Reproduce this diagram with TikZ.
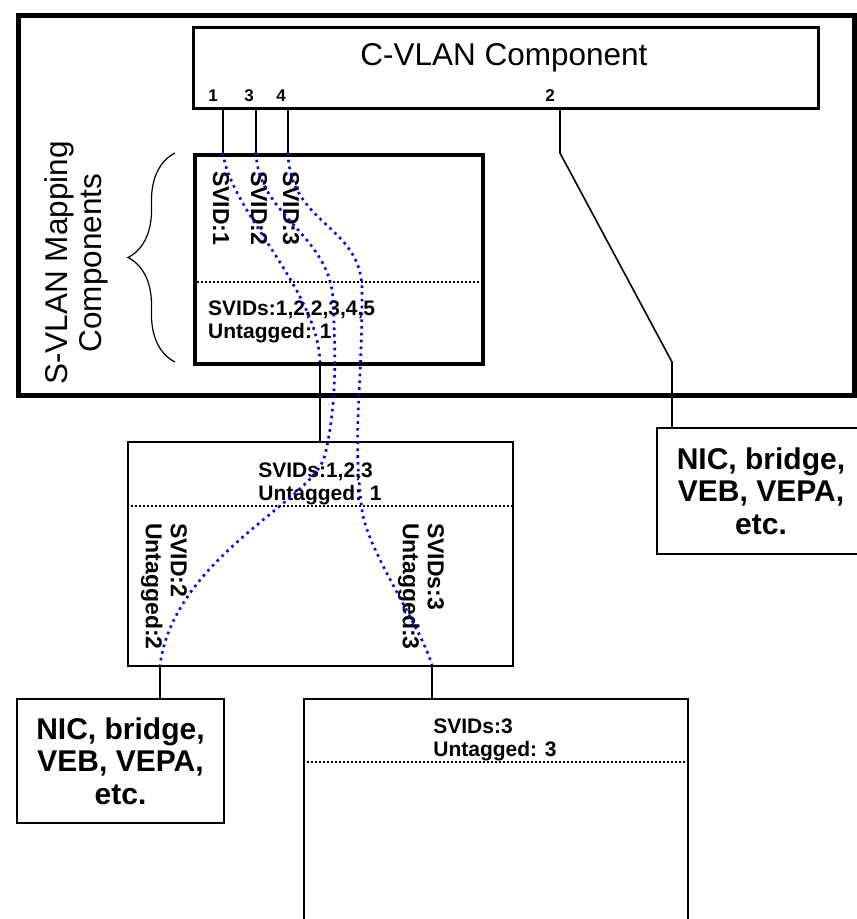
\documentclass[tikz,border=0pt]{standalone}
\usepackage{fontspec}
\setmainfont{Liberation Sans}
\usetikzlibrary{decorations.pathreplacing}

\begin{document}
\begin{tikzpicture}[x=1pt, y=-1pt,
  box/.style={draw, line width=2pt, inner sep=0pt, anchor=north west},
  conn/.style={line width=1.6pt},
  svid/.style={blue, line width=2.6pt, dash pattern=on 2.6pt off 4.2pt},
  sep/.style={line width=1.8pt, dash pattern=on 1.8pt off 2.2pt},
  lbl/.style={font=\fontsize{21}{23}\selectfont\bfseries, align=left, inner sep=0pt},
  vlbl/.style={font=\fontsize{23}{25}\selectfont\bfseries, align=left,
               inner sep=0pt, rotate=-90, anchor=west},
  port/.style={font=\fontsize{17}{19}\selectfont\bfseries, inner sep=0pt},
  dev/.style={box, font=\fontsize{30}{32.5}\selectfont\bfseries, align=center}
]
\useasboundingbox (0,0) rectangle (857,919);

%% Outer frame and C-VLAN component
\node[box, line width=5pt, minimum width=836pt, minimum height=380pt] (frame) at (16,13) {};
\node[box, line width=3pt, minimum width=625pt, minimum height=81pt] (cvlan) at (192,26) {};
\node[font=\fontsize{31.5}{34}\selectfont] (cvlantxt) at (504,58) {C-VLAN Component};

\node[port] (n1) at (213,96) {1};
\node[port] (n3) at (249,96) {3};
\node[port] (n4) at (281,96) {4};
\node[port] (n2) at (550,96) {2};

\coordinate (p1) at (223,107);
\coordinate (p3) at (256,107);
\coordinate (p4) at (288,107);
\coordinate (p2) at (560,107);

%% S-VLAN mapping component
\node[box, line width=3.5pt, minimum width=288pt, minimum height=209pt] (svlan) at (193,153) {};
\draw[sep] (svlan.west |- 0,282) -- (svlan.east |- 0,282);

\node[vlbl] (v1) at (221,171) {SVID:1};
\node[vlbl] (v2) at (259,171) {SVID:2};
\node[vlbl] (v3) at (291,171) {SVID:3};
\node[lbl, anchor=west] (svids) at (208,322) {SVIDs:1,2,2,3,4,5\\Untagged: 1};

\draw[decorate, decoration={brace, amplitude=47pt}, line width=1.2pt] (175,362) -- (175,153);
\node[rotate=90, align=center, font=\fontsize{31.5}{34}\selectfont] (svlanlbl) at (76,263)
  {S-VLAN Mapping\\Components};

%% Lower components
\node[box, minimum width=385pt, minimum height=224pt] (mid) at (127,441) {};
\draw[sep] (mid.west |- 0,506) -- (mid.east |- 0,506);
\node[lbl] (midtxt) at (320,484) {SVIDs:1,2,3\\Untagged: 1};
\node[vlbl] (m2) at (164,523) {SVID:2\\Untagged:2};
\node[vlbl] (m3) at (421,523) {SVIDs:3\\Untagged:3};

\node[box, minimum width=384pt, minimum height=260pt] (low) at (303,698) {};
\draw[sep] (low.west |- 0,762) -- (low.east |- 0,762);
\node[lbl] (lowtxt) at (495,740) {SVIDs:3\\Untagged: 3};

\node[dev, minimum width=207pt, minimum height=124pt] (nicl) at (16,698)
  {NIC, bridge,\\VEB, VEPA,\\etc.};
\node[dev, minimum width=208pt, minimum height=126pt] (nicr) at (656,427)
  {NIC, bridge,\\VEB, VEPA,\\etc.};

%% Connectors
\coordinate (sb) at (320,362);
\coordinate (ml) at (160,665);
\coordinate (mr) at (432,665);
\coordinate (b2a) at (560,153);
\coordinate (b2b) at (672,362);

\draw[conn] (p1) -- (p1 |- svlan.north);
\draw[conn] (p3) -- (p3 |- svlan.north);
\draw[conn] (p4) -- (p4 |- svlan.north);
\draw[conn] (p2) -- (b2a) -- (b2b) -- (b2b |- nicr.north);
\draw[conn] (sb) -- (sb |- mid.north);
\draw[conn] (ml) -- (ml |- nicl.north);
\draw[conn] (mr) -- (mr |- low.north);

%% SVID paths (dotted)
\draw[svid] (p1 |- svlan.north) .. controls (230,210) and (318,290) .. (sb);
\draw[svid] (p3 |- svlan.north) .. controls (258,215) and (330,235) .. (333,300)
  .. controls (335,345) and (338,400) .. (325,455)
  .. controls (315,500) and (175,555) .. (ml);
\draw[svid] (p4 |- svlan.north) .. controls (290,225) and (362,225) .. (362,290)
  .. controls (362,400) and (352,430) .. (362,510)
  .. controls (367,550) and (420,625) .. (mr);

\end{tikzpicture}
\end{document}
